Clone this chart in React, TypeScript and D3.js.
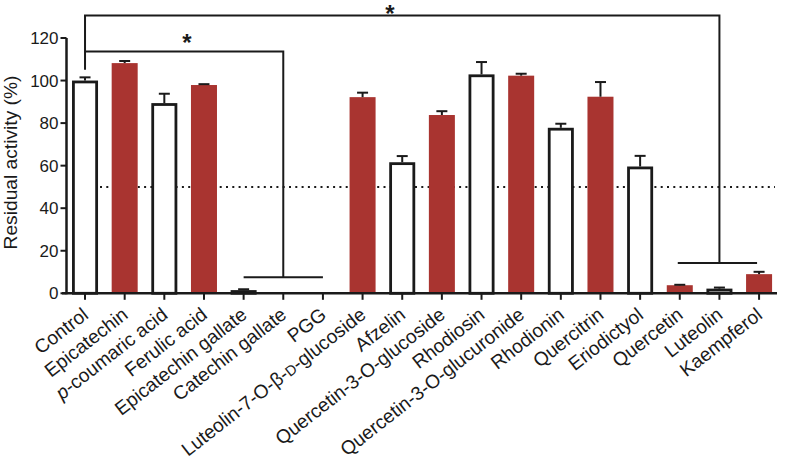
import React from "react";
import * as d3 from "d3";

const categories = [
  "Control", "Epicatechin", "p-coumaric acid", "Ferulic acid", "Epicatechin gallate",
  "Catechin gallate", "PGG", "Luteolin-7-O-β-D-glucoside", "Afzelin", "Quercetin-3-O-glucoside",
  "Rhodiosin", "Quercetin-3-O-glucuronide", "Rhodionin", "Quercitrin", "Eriodictyol",
  "Quercetin", "Luteolin", "Kaempferol",
];
const values = [100, 108.2, 89.4, 97.9, 1.5, 0, 0, 92.2, 61.6, 83.8, 102.9, 102.3, 77.8, 92.4, 59.6, 3.8, 2.2, 9.0];
const errors = [1.5, 1.0, 4.4, 0.4, 0.4, 0, 0, 2.1, 2.9, 1.8, 5.8, 0.9, 1.9, 6.9, 5.0, 0.2, 0.5, 1.1];
const filled = [false, true, false, true, false, false, false, true, false, true, false, true, false, true, false, true, false, true];
const yTicks = [0, 20, 40, 60, 80, 100, 120];
const threshold = 50;

const W = 787, H = 467;
const RED = "#a93430";
const INK = "#1a1a1a";

function Label({ name }: { name: string }) {
  if (name.startsWith("p-")) {
    return (<><tspan fontStyle="italic">p</tspan>{name.slice(1)}</>);
  }
  if (name.includes("β-D-")) {
    const [a, b] = name.split("β-D-");
    return (<>{a}β-<tspan fontSize="14.5px">D</tspan>-{b}</>);
  }
  return <>{name}</>;
}

export default function App() {
  const x = d3.scaleBand<string>().domain(categories).range([65.2, 778.9]).paddingInner(0.344).paddingOuter(0.172);
  const y = d3.scaleLinear().domain([0, 120]).range([293.3, 38]);
  const bw = x.bandwidth();
  const cx = (c: string) => (x(c) as number) + bw / 2;
  const sw = 2.8;
  const font = "'Liberation Sans', Arial, sans-serif";

  const topY = y(130.6);
  const midY = y(113.7);
  const ctrlDrop = y(105.1);
  const g1Y = y(7.5);
  const g2Y = y(14.3);

  return (
    <svg width={W} height={H} style={{ position: "absolute", left: 0, top: 0 }} fontFamily={font}>
      {/* threshold dotted line */}
      <line x1={100} x2={775} y1={y(threshold)} y2={y(threshold)} stroke={INK} strokeWidth={2} strokeDasharray="2 4.3" />

      {/* bars */}
      {categories.map((c, i) => {
        const v = values[i];
        if (v <= 0) return null;
        const x0 = x(c) as number;
        const top = y(v);
        const e = errors[i];
        const errTop = y(v + e);
        return (
          <g key={c}>
            {filled[i] ? (
              <rect x={x0} y={top} width={bw} height={y(0) - top} fill={RED} />
            ) : (
              <rect x={x0 + sw / 2} y={top + sw / 2} width={bw - sw} height={Math.max(0.5, y(0) - top - sw / 2)} fill="#fff" stroke={INK} strokeWidth={sw} />
            )}
            {e > 0 && (
              <g stroke={INK} strokeWidth={2}>
                <line x1={cx(c)} x2={cx(c)} y1={top} y2={errTop} />
                <line x1={cx(c) - 5.5} x2={cx(c) + 5.5} y1={errTop} y2={errTop} />
              </g>
            )}
          </g>
        );
      })}

      {/* significance brackets */}
      <g stroke={INK} strokeWidth={2} fill="none">
        <path d={`M${cx("Control")},${ctrlDrop}V${topY}H${cx("Luteolin")}V${g2Y}`} />
        <path d={`M${cx("Quercetin") - 2},${g2Y}H${cx("Kaempferol") - 2}`} />
        <path d={`M${cx("Control")},${midY}H${cx("Catechin gallate")}V${g1Y}`} />
        <path d={`M${cx("Epicatechin gallate")},${g1Y}H${cx("PGG")}`} />
      </g>
      <text x={390} y={topY + 7} textAnchor="middle" fontSize={24} fontWeight="bold" fill={INK}>*</text>
      <text x={187} y={midY + 0} textAnchor="middle" fontSize={24} fontWeight="bold" fill={INK}>*</text>

      {/* y axis */}
      <g>
        <line x1={66.5} x2={66.5} y1={y(120)} y2={y(0) + 1} stroke={INK} strokeWidth={2.5} />
        {yTicks.map((t) => (
          <g key={t}>
            <line x1={60.5} x2={66.5} y1={y(t)} y2={y(t)} stroke={INK} strokeWidth={2} />
            <text x={58.5} y={y(t)} dy="0.36em" textAnchor="end" fontSize={17} fill={INK}>{t}</text>
          </g>
        ))}
        <text transform={`translate(16.5,${162.5}) rotate(-90)`} textAnchor="middle" fontSize={19.2} fill={INK}>Residual activity (%)</text>
      </g>

      {/* x axis */}
      <g>
        <line x1={62} x2={777} y1={y(0)} y2={y(0)} stroke={INK} strokeWidth={2.5} />
        {categories.map((c) => (
          <g key={c}>
            <line x1={cx(c)} x2={cx(c)} y1={y(0)} y2={y(0) + 6.5} stroke={INK} strokeWidth={2} />
            <text transform={`translate(${cx(c) + 4.5},${317}) rotate(-38)`} textAnchor="end" fontSize={19.2} fill={INK}>
              <Label name={c} />
            </text>
          </g>
        ))}
      </g>
    </svg>
  );
}
